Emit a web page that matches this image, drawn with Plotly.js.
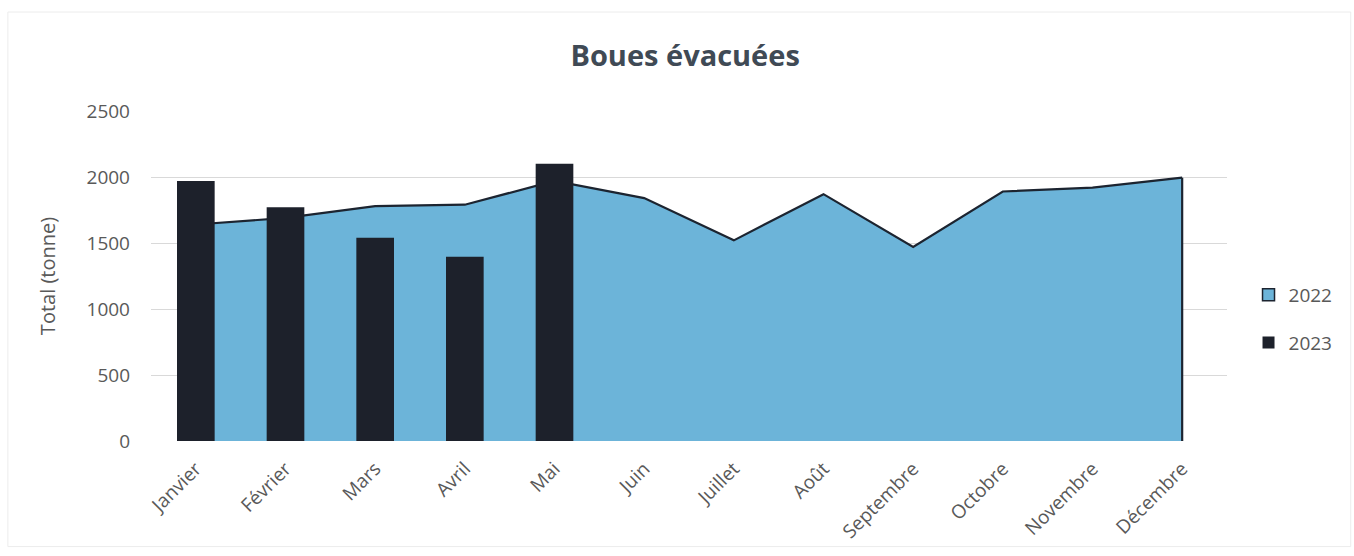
<!DOCTYPE html>
<html>
<head>
<meta charset="utf-8">
<script src="https://cdn.plot.ly/plotly-3.0.1.min.js"></script>
<style>html,body{margin:0;padding:0;background:#fff;}#chart{width:1354px;height:556px;}</style>
</head>
<body>
<div id="chart"></div>
<script>
const months = ["Janvier","Février","Mars","Avril","Mai","Juin","Juillet","Août","Septembre","Octobre","Novembre","Décembre"];
const values2022 = [1640, 1690, 1780, 1790, 1970, 1840, 1520, 1870, 1470, 1890, 1920, 1995];
const months2023 = ["Janvier","Février","Mars","Avril","Mai"];
const values2023 = [1970, 1770, 1540, 1395, 2100];
const yTicks = [0, 500, 1000, 1500, 2000, 2500];

const FONT = "Open Sans, Noto Sans, sans-serif";
const LINE_COLOR = "#1c2430";
const AREA_COLOR = "#6cb4d9";

const traces = [
  {
    type: "scatter", mode: "lines", name: "2022",
    x: months, y: values2022,
    fill: "tozeroy", fillcolor: AREA_COLOR,
    line: {color: LINE_COLOR, width: 2.2},
    showlegend: false,
    hoverinfo: "x+y"
  },
  {
    // legend swatch for 2022 (square, like the original); draws no mark
    type: "bar", name: "2022", x: [months[0]], y: [null],
    marker: {color: AREA_COLOR, line: {color: LINE_COLOR, width: 1.5}},
    legendgroup: "a", showlegend: true, hoverinfo: "skip"
  },
  {
    type: "bar", name: "2023",
    x: months2023, y: values2023,
    marker: {color: "#1d212b"},
    width: 0.42,
    xaxis: "x", yaxis: "y2",
    legendgroup: "b"
  }
];

const layout = {
  width: 1354, height: 556,
  margin: {l: 151, r: 127, t: 111, b: 115},
  paper_bgcolor: "#ffffff", plot_bgcolor: "#ffffff",
  font: {family: FONT, color: "#595959", size: 19},
  title: {
    text: "<b>Boues évacuées</b>",
    font: {family: FONT, size: 29, color: "#404a55"},
    x: 0.506, xanchor: "center", y: 0.9, yanchor: "middle"
  },
  xaxis: {
    type: "category", categoryorder: "array", categoryarray: months,
    range: [-0.5, 11.5],
    tickangle: -45, showgrid: false, zeroline: false, showline: false,
    ticks: "", ticklabelstandoff: 12,
    tickfont: {size: 19, color: "#595959"}
  },
  yaxis: {
    range: [0, 2500], tickvals: yTicks, ticktext: yTicks.map(String),
    showgrid: true, gridcolor: "#d9d9d9", gridwidth: 1,
    zeroline: false, showline: false, ticks: "", ticklabelstandoff: 20,
    tickfont: {size: 19, color: "#595959"},
    title: {text: "Total (tonne)", font: {size: 20, color: "#595959"}, standoff: 25}
  },
  yaxis2: {
    range: [0, 2500], overlaying: "y", side: "left",
    visible: false, showgrid: false, zeroline: false
  },
  legend: {
    x: 1.02, xanchor: "left", y: 0.37, yanchor: "middle",
    font: {size: 19, color: "#595959"},
    tracegroupgap: 20, itemwidth: 30,
    bgcolor: "rgba(0,0,0,0)"
  },
  showlegend: true,
  shapes: [
    {
      type: "line", xref: "x", yref: "y",
      x0: months[months.length - 1], x1: months[months.length - 1],
      y0: 0, y1: values2022[values2022.length - 1],
      line: {color: LINE_COLOR, width: 2.2}
    },
    {
      type: "rect", xref: "paper", yref: "paper",
      x0: -0.133, x1: 1.115, y0: -0.32, y1: 1.3,
      line: {color: "#ececec", width: 1}, layer: "below"
    }
  ]
};

Plotly.newPlot("chart", traces, layout, {displayModeBar: false, staticPlot: true});
</script>
</body>
</html>
